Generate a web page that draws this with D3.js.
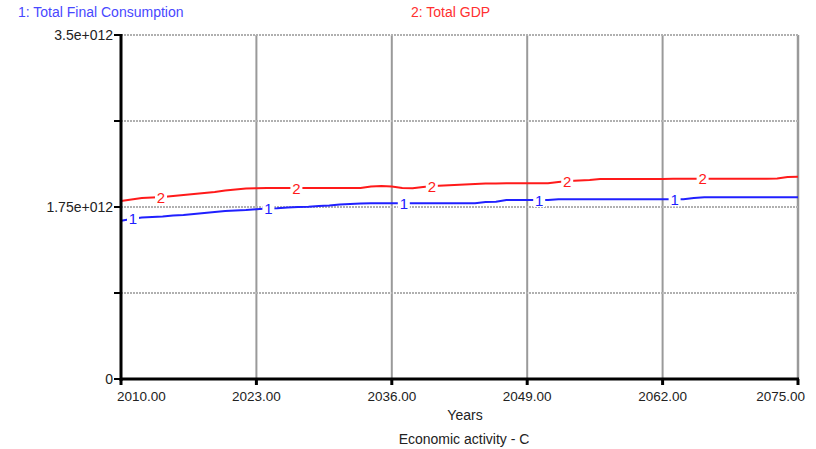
<!DOCTYPE html>
<html><head><meta charset="utf-8">
<script src="https://cdn.jsdelivr.net/npm/d3@7"></script>
<style>
html,body{margin:0;padding:0;background:#fff;}
svg{display:block;font-family:"Liberation Sans",Arial,sans-serif;}
</style></head>
<body><svg id="chart" width="816" height="449"></svg>
<script>
// ---- data (values in units of 1e12) ----
const years = d3.range(2010, 2076);
const consumption = [
 1.611,1.628,1.643,1.648,1.653,1.663,1.668,1.679,1.689,1.699,
 1.709,1.714,1.719,1.727,1.735,1.737,1.745,1.750,1.753,1.760,
 1.765,1.775,1.780,1.785,1.787,1.787,1.787,1.787,1.787,1.787,
 1.787,1.787,1.787,1.787,1.787,1.801,1.804,1.821,1.821,1.821,
 1.821,1.821,1.828,1.828,1.828,1.828,1.828,1.828,1.828,1.828,
 1.828,1.828,1.828,1.828,1.828,1.841,1.849,1.849,1.849,1.849,
 1.849,1.849,1.849,1.849,1.849,1.849];
const gdp = [
 1.811,1.826,1.841,1.847,1.852,1.862,1.872,1.882,1.892,1.902,
 1.918,1.928,1.938,1.940,1.943,1.943,1.943,1.943,1.943,1.943,
 1.943,1.943,1.943,1.943,1.959,1.964,1.959,1.943,1.940,1.953,
 1.964,1.969,1.974,1.979,1.984,1.988,1.990,1.991,1.991,1.991,
 1.991,1.991,2.004,2.014,2.020,2.025,2.035,2.035,2.035,2.035,
 2.035,2.035,2.035,2.038,2.038,2.038,2.038,2.038,2.038,2.038,
 2.038,2.038,2.038,2.040,2.055,2.058];
const xTicks = [2010, 2023, 2036, 2049, 2062, 2075];
const yTicks = [0, 0.875, 1.75, 2.625, 3.5];
const yTickLabels = {0:"0", 1.75:"1.75e+012", 3.5:"3.5e+012"};
const seriesNames = ["1: Total Final Consumption", "2: Total GDP"];
const seriesKeys = ["1", "2"];
const xTitle = "Years";
const subTitle = "Economic activity - C";

const svg = d3.select("#chart");
const L = 121, R = 798, T = 35, B = 379;
const x = d3.scaleLinear().domain([2010, 2075]).range([L, R]);
const y = d3.scaleLinear().domain([0, 3.5]).range([B, T]);
const blue = "#2020ff", red = "#ff1a1a";

// gridlines
const g = svg.append("g");
g.selectAll(".vg").data(xTicks.slice(1)).join("line")
  .attr("x1", d => x(d)).attr("x2", d => x(d)).attr("y1", T).attr("y2", B)
  .attr("stroke", "#9a9a9a").attr("stroke-width", d => d === 2075 ? 2.5 : 2);
g.selectAll(".hg").data(yTicks.slice(1)).join("line")
  .attr("x1", L).attr("x2", R).attr("y1", d => y(d)).attr("y2", d => y(d))
  .attr("stroke", "#b0b0b0").attr("stroke-width", 2).attr("stroke-dasharray", "2,1");

// lines
const line = d3.line().x((d, i) => x(years[i])).y(d => y(d));
const series = [consumption, gdp];
const colors = [blue, red];
series.forEach((s, k) => {
  svg.append("path").datum(s).attr("d", line)
    .attr("fill", "none").attr("stroke", colors[k]).attr("stroke-width", 2);
});

// in-line labels
const offsets = [12, 40];
series.forEach((s, k) => {
  const interp = xv => {
    const yr = x.invert(xv);
    const i = Math.min(Math.floor(yr - 2010), s.length - 2);
    const t = yr - 2010 - i;
    return s[i] + (s[i + 1] - s[i]) * t;
  };
  xTicks.slice(0, 5).forEach(tk => {
    const lx = x(tk) + offsets[k];
    const ly = y(interp(lx));
    svg.append("rect").attr("x", lx - 6).attr("y", ly - 7).attr("width", 12).attr("height", 14).attr("fill", "#fff");
    svg.append("text").attr("x", lx).attr("y", ly + 5.5).attr("text-anchor", "middle")
      .attr("font-size", 15).attr("fill", colors[k]).text(seriesKeys[k]);
  });
});

// axes
svg.append("line").attr("x1", L).attr("x2", L).attr("y1", T - 1).attr("y2", B + 2)
  .attr("stroke", "#000").attr("stroke-width", 3);
svg.append("line").attr("x1", L - 1).attr("x2", R + 1).attr("y1", B).attr("y2", B)
  .attr("stroke", "#000").attr("stroke-width", 3);
svg.selectAll(".yt").data(yTicks).join("line")
  .attr("x1", L - 7).attr("x2", L).attr("y1", d => y(d)).attr("y2", d => y(d))
  .attr("stroke", "#000").attr("stroke-width", 2);
svg.selectAll(".ytl").data(yTicks.filter(d => yTickLabels[d] !== undefined)).join("text")
  .attr("x", L - 8).attr("y", d => y(d) + 5).attr("text-anchor", "end")
  .attr("font-size", 14).attr("fill", "#222").text(d => yTickLabels[d]);
svg.selectAll(".xt").data(xTicks).join("line")
  .attr("x1", d => x(d)).attr("x2", d => x(d)).attr("y1", B).attr("y2", B + 6)
  .attr("stroke", "#000").attr("stroke-width", 3);
svg.selectAll(".xtl").data(xTicks).join("text")
  .attr("x", (d, i) => i === 0 ? x(d) - 4 : i === xTicks.length - 1 ? x(d) + 7 : x(d))
  .attr("y", 401)
  .attr("text-anchor", (d, i) => i === 0 ? "start" : i === xTicks.length - 1 ? "end" : "middle")
  .attr("font-size", 13.5).attr("fill", "#222").text(d => d.toFixed(2));

svg.append("text").attr("x", 465).attr("y", 420).attr("text-anchor", "middle")
  .attr("font-size", 14).attr("fill", "#222").text(xTitle);
svg.append("text").attr("x", 464).attr("y", 444).attr("text-anchor", "middle")
  .attr("font-size", 14).attr("fill", "#222").text(subTitle);

// legend
svg.append("text").attr("x", 18).attr("y", 17).attr("font-size", 14)
  .attr("fill", "#4848ff").text(seriesNames[0]);
svg.append("text").attr("x", 411).attr("y", 17).attr("font-size", 14)
  .attr("fill", "#ff3030").text(seriesNames[1]);
</script></body></html>
